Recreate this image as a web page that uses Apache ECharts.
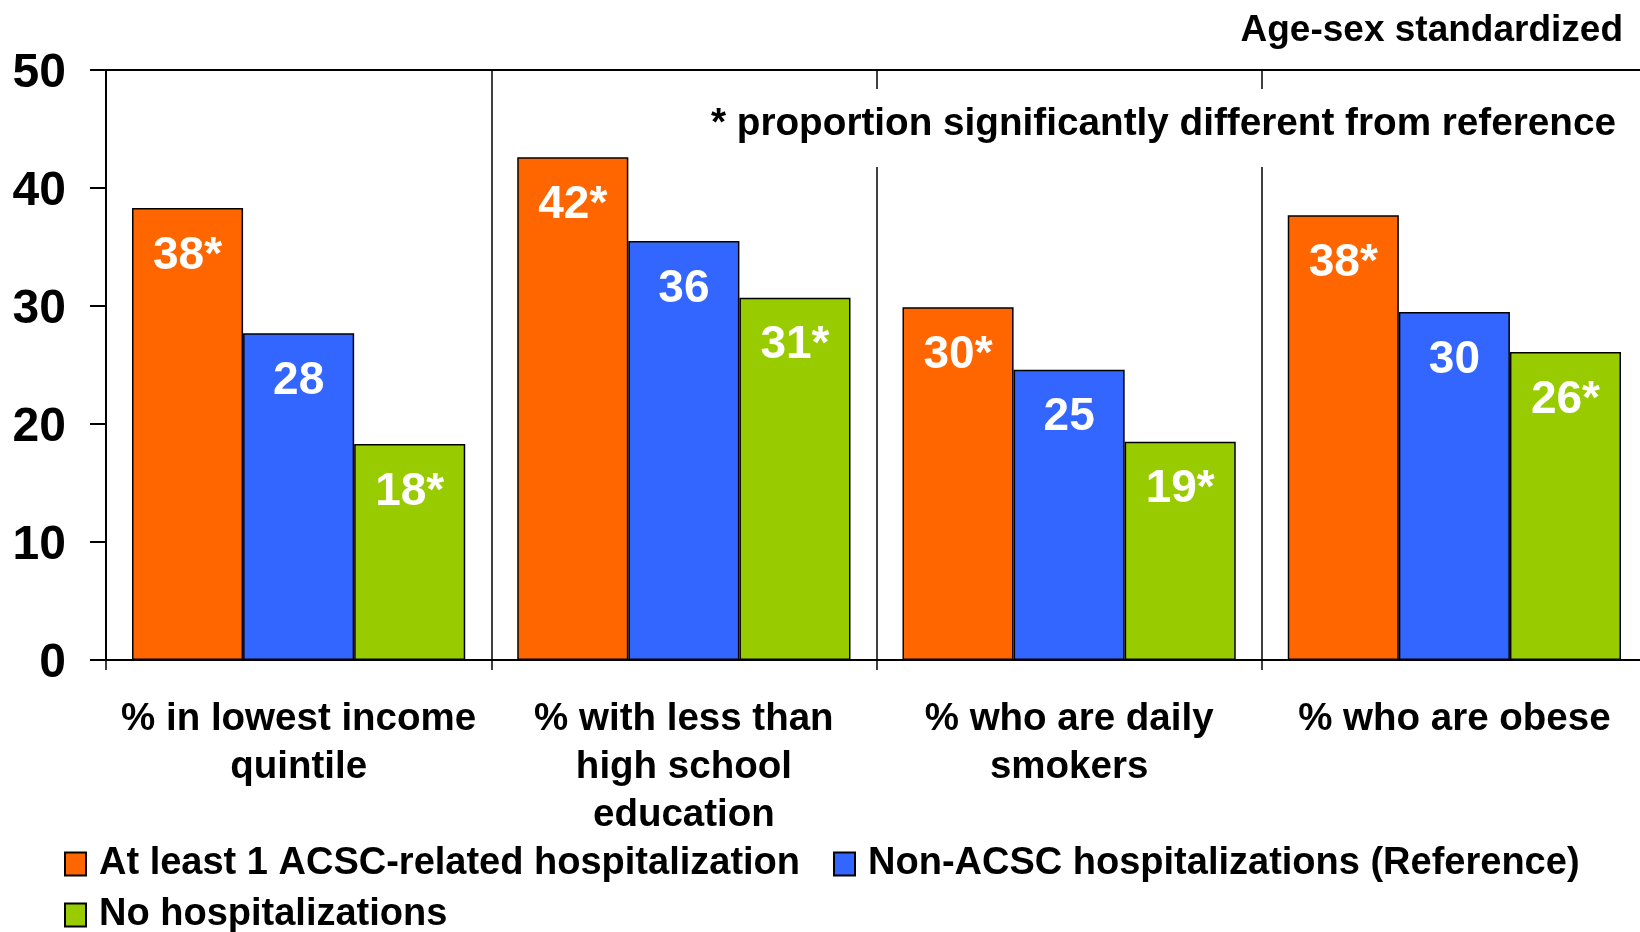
<!DOCTYPE html>
<html>
<head>
<meta charset="utf-8">
<script src="https://cdn.jsdelivr.net/npm/echarts@6/dist/echarts.min.js"></script>
<style>
  html, body { margin: 0; padding: 0; background: #fff; overflow: hidden; width: 1640px; height: 932px; }
  #chart { width: 1647px; height: 932px; }
</style>
</head>
<body>
<div id="chart"></div>
<script>
const categories = [
  "% in lowest income\nquintile",
  "% with less than\nhigh school\neducation",
  "% who are daily\nsmokers",
  "% who are obese"
];
const seriesNames = [
  "At least 1 ACSC-related hospitalization",
  "Non-ACSC hospitalizations (Reference)",
  "No hospitalizations"
];
const acscValues = [38.3, 42.6, 29.9, 37.7];
const acscLabels = ["38*", "42*", "30*", "38*"];
const nonAcscValues = [27.7, 35.5, 24.6, 29.5];
const nonAcscLabels = ["28", "36", "25", "30"];
const noHospValues = [18.3, 30.7, 18.5, 26.1];
const noHospLabels = ["18*", "31*", "19*", "26*"];
const yMin = 0, yMax = 50, yStep = 10;
const noteText = "* proportion significantly different from reference";
const cornerText = "Age-sex standardized";

const FONT = "'Liberation Sans', Arial, sans-serif";
const colors = ["#FF6600", "#3366FF", "#99CC00"];

function barSeries(name, values, labels, color) {
  return {
    name: name,
    type: "bar",
    data: values,
    barGap: "0%",
    barCategoryGap: "13.5%",
    itemStyle: { color: color, borderColor: "#000", borderWidth: 1.5 },
    label: {
      show: true,
      position: "insideTop",
      distance: 25,
      color: "#fff",
      fontFamily: FONT,
      fontWeight: "bold",
      fontSize: 46,
      lineHeight: 46,
      formatter: p => labels[p.dataIndex]
    },
    emphasis: { disabled: true }
  };
}

const legendText = { fontFamily: FONT, fontWeight: "bold", fontSize: 38, lineHeight: 44, color: "#000", padding: [0, 0, 0, 8] };

const chart = echarts.init(document.getElementById("chart"), null, { renderer: "canvas" });
chart.setOption({
  animation: false,
  backgroundColor: "#fff",
  textStyle: { fontFamily: FONT },
  grid: { left: 106, top: 70, right: 0, height: 590, containLabel: false },
  legend: [
    {
      data: [seriesNames[0], seriesNames[1]],
      left: 64, top: 842, padding: 0,
      icon: "rect", itemWidth: 21, itemHeight: 23, itemGap: 33,
      textStyle: legendText,
      selectedMode: false
    },
    {
      data: [seriesNames[2]],
      left: 64, top: 893, padding: 0,
      icon: "rect", itemWidth: 21, itemHeight: 23, itemGap: 33,
      textStyle: legendText,
      selectedMode: false
    }
  ],
  xAxis: [
    {
      type: "category",
      data: categories,
      position: "bottom",
      axisLine: { show: true, lineStyle: { color: "#000", width: 2 } },
      axisTick: { show: true, length: 10, alignWithLabel: false, lineStyle: { color: "#000", width: 1.5 } },
      splitLine: { show: true, interval: 0, lineStyle: { color: "#000", width: 1.5 } },
      axisLabel: {
        interval: 0, margin: 35, color: "#000",
        fontFamily: FONT, fontWeight: "bold", fontSize: 38.5, lineHeight: 48
      }
    },
    {
      type: "category",
      data: categories,
      position: "top",
      axisLine: { show: true, lineStyle: { color: "#000", width: 2 } },
      axisTick: { show: false },
      axisLabel: { show: false },
      splitLine: { show: false }
    }
  ],
  yAxis: {
    type: "value",
    min: yMin, max: yMax, interval: yStep,
    axisLine: { show: true, lineStyle: { color: "#000", width: 2 } },
    axisTick: { show: true, length: 16, lineStyle: { color: "#000", width: 2 } },
    splitLine: { show: false },
    axisLabel: {
      margin: 40, color: "#000",
      formatter: "{v|{value}}",
      rich: {
        v: { fontFamily: FONT, fontWeight: "bold", fontSize: 48, lineHeight: 48, padding: [8, 0, 0, 0], color: "#000" }
      }
    }
  },
  graphic: [
    {
      type: "text",
      right: 24, top: 12, z: 100,
      style: { text: cornerText, font: "bold 37px " + FONT, fill: "#000" }
    },
    {
      type: "text",
      left: 700, top: 89, z: 100,
      style: {
        text: noteText, font: "bold 38.7px " + FONT, fill: "#000",
        backgroundColor: "#fff", padding: [13, 12, 21, 11], lineHeight: 44
      }
    }
  ],
  series: [
    barSeries(seriesNames[0], acscValues, acscLabels, colors[0]),
    barSeries(seriesNames[1], nonAcscValues, nonAcscLabels, colors[1]),
    barSeries(seriesNames[2], noHospValues, noHospLabels, colors[2])
  ]
});
</script>
</body>
</html>
